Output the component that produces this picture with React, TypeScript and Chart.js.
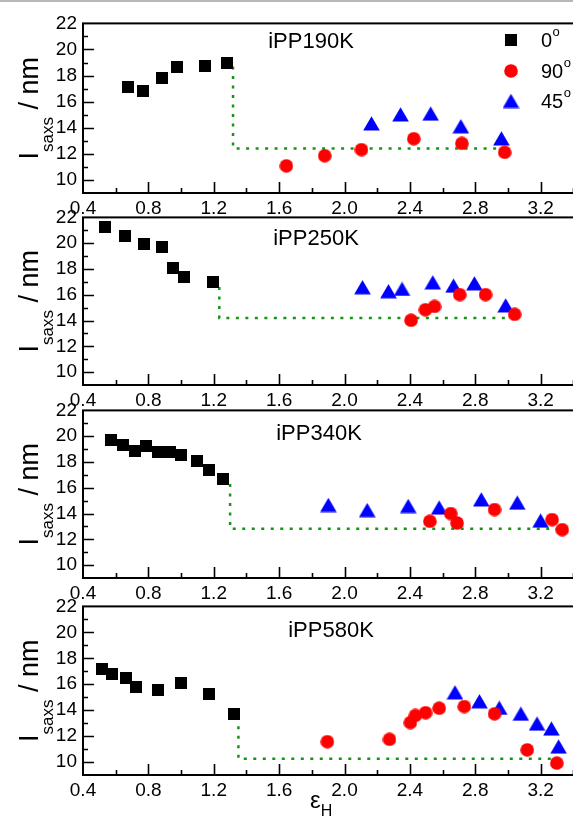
import React, { useEffect, useRef } from 'react';
import { Chart, registerables } from 'chart.js';

Chart.register(...registerables);

const FONT = '"Liberation Sans", Arial, Helvetica, sans-serif';

// ---------- data ----------
const PANEL_NAMES = ['iPP190K', 'iPP250K', 'iPP340K', 'iPP580K'];
const LEGEND_LABELS = ['0', '90', '45'];
const LEGEND_SUP = 'o';
const Y_TITLE_MAIN = 'I';
const Y_TITLE_SUB = 'saxs';
const Y_TITLE_REST = ' / nm';
const X_TITLE_MAIN = 'ε';
const X_TITLE_SUB = 'H';

const X_MIN = 0.4;
const X_MAX = 3.6;
const X_STEP = 0.2;
const X_LABEL_EVERY = 0.4;
const X_LABEL_MAX = 3.2;
const Y_MIN = 9;
const Y_MAX = 22;
const Y_STEP = 1;
const Y_LABEL_MIN = 10;

// iPP190K
const P1_SQ_X = [0.673, 0.768, 0.882, 0.975, 1.148, 1.28];
const P1_SQ_Y = [17.1, 16.85, 17.81, 18.69, 18.77, 18.99];
const P1_CI_X = [1.644, 1.879, 2.104, 2.424, 2.718, 2.98];
const P1_CI_Y = [11.08, 11.86, 12.32, 13.16, 12.8, 12.12];
const P1_TR_X = [2.165, 2.343, 2.527, 2.712, 2.96];
const P1_TR_Y = [14.33, 15.02, 15.08, 14.11, 13.18];
const P1_LN_X = [1.318, 1.318, 3.0];
const P1_LN_Y = [18.7, 12.42, 12.42];

// iPP250K
const P2_SQ_X = [0.536, 0.658, 0.774, 0.884, 0.948, 1.019, 1.197];
const P2_SQ_Y = [21.23, 20.54, 19.95, 19.7, 18.11, 17.4, 17.01];
const P2_CI_X = [2.407, 2.495, 2.551, 2.705, 2.863, 3.041];
const P2_CI_Y = [14.02, 14.84, 15.09, 16.01, 16.01, 14.48];
const P2_TR_X = [2.11, 2.269, 2.352, 2.54, 2.667, 2.795, 2.986];
const P2_TR_Y = [16.58, 16.27, 16.45, 16.96, 16.7, 16.88, 15.17];
const P2_LN_X = [1.234, 1.234, 3.046];
const P2_LN_Y = [16.6, 14.2, 14.2];

// iPP340K
const P3_SQ_X = [0.574, 0.647, 0.717, 0.785, 0.856, 0.933, 0.999, 1.098, 1.17, 1.258];
const P3_SQ_Y = [19.7, 19.29, 18.87, 19.24, 18.74, 18.74, 18.56, 18.04, 17.36, 16.68];
const P3_CI_X = [2.522, 2.65, 2.689, 2.918, 3.27, 3.332];
const P3_CI_Y = [13.4, 14.0, 13.27, 14.31, 13.53, 12.75];
const P3_TR_X = [1.901, 2.139, 2.39, 2.579, 2.837, 3.057, 3.2];
const P3_TR_Y = [14.66, 14.26, 14.58, 14.46, 15.09, 14.84, 13.45];
const P3_LN_X = [1.3, 1.3, 3.34];
const P3_LN_Y = [16.3, 12.82, 12.82];

// iPP580K
const P4_SQ_X = [0.519, 0.58, 0.662, 0.724, 0.856, 0.999, 1.17, 1.322];
const P4_SQ_Y = [17.14, 16.76, 16.46, 15.8, 15.54, 16.08, 15.24, 13.72];
const P4_CI_X = [1.895, 2.275, 2.403, 2.434, 2.496, 2.579, 2.733, 2.918, 3.118, 3.299];
const P4_CI_Y = [11.57, 11.75, 13.04, 13.59, 13.8, 14.15, 14.28, 13.72, 10.94, 9.92];
const P4_TR_X = [2.676, 2.826, 2.947, 3.079, 3.178, 3.266, 3.31];
const P4_TR_Y = [15.37, 14.68, 14.18, 13.72, 12.96, 12.58, 11.19];
const P4_LN_X = [1.351, 1.351, 3.3];
const P4_LN_Y = [13.5, 10.25, 10.25];

const PANELS = [
  { sqX: P1_SQ_X, sqY: P1_SQ_Y, ciX: P1_CI_X, ciY: P1_CI_Y, trX: P1_TR_X, trY: P1_TR_Y, lnX: P1_LN_X, lnY: P1_LN_Y },
  { sqX: P2_SQ_X, sqY: P2_SQ_Y, ciX: P2_CI_X, ciY: P2_CI_Y, trX: P2_TR_X, trY: P2_TR_Y, lnX: P2_LN_X, lnY: P2_LN_Y },
  { sqX: P3_SQ_X, sqY: P3_SQ_Y, ciX: P3_CI_X, ciY: P3_CI_Y, trX: P3_TR_X, trY: P3_TR_Y, lnX: P3_LN_X, lnY: P3_LN_Y },
  { sqX: P4_SQ_X, sqY: P4_SQ_Y, ciX: P4_CI_X, ciY: P4_CI_Y, trX: P4_TR_X, trY: P4_TR_Y, lnX: P4_LN_X, lnY: P4_LN_Y },
];

// ---------- layout / style ----------
const LAYOUT = {
  left: 83,
  pxPerUnit: 166.1,
  padTop: 15,
  xAxisH: 35,
  padBottom: 30,
  panels: [
    { top: 21, h: 172, titleX: 311, titleDy: 25 },
    { top: 215, h: 170, titleX: 316, titleDy: 28 },
    { top: 408, h: 170, titleX: 319, titleDy: 30 },
    { top: 604, h: 171, titleX: 331, titleDy: 31 },
  ],
  legend: { markerX: 511, textX: 541, rows: [40, 71, 101] },
  yTitleX: 38,
  xTitle: { x: 310, baseline: 808 },
};
const GREEN = 'rgb(20,150,20)';
const RED = '#ff0000';
const BLUE = '#0000ff';
const BLACK = '#000000';

function zip(xs: number[], ys: number[]) {
  return xs.map((x, i) => ({ x, y: ys[i] }));
}

function makeMarker(kind: 'sq' | 'ci' | 'tr'): HTMLCanvasElement {
  const c = document.createElement('canvas');
  if (kind === 'sq') {
    c.width = 12; c.height = 12;
    const g = c.getContext('2d')!;
    g.fillStyle = BLACK; g.fillRect(0, 0, 12, 12);
  } else if (kind === 'ci') {
    c.width = 14; c.height = 14;
    const g = c.getContext('2d')!;
    g.fillStyle = RED; g.beginPath(); g.arc(7, 7, 6.8, 0, Math.PI * 2); g.fill();
  } else {
    c.width = 17; c.height = 15;
    const g = c.getContext('2d')!;
    g.fillStyle = BLUE; g.beginPath();
    g.moveTo(8.5, 0.3); g.lineTo(16.8, 14.5); g.lineTo(0.2, 14.5); g.closePath(); g.fill();
  }
  return c;
}

const CANVAS_W = Math.round(LAYOUT.left + (X_MAX - X_MIN) * LAYOUT.pxPerUnit);

function PanelChart({ idx }: { idx: number }) {
  const ref = useRef<HTMLCanvasElement>(null);
  const L = LAYOUT.panels[idx];
  const canvasTop = L.top - LAYOUT.padTop;
  const canvasH = LAYOUT.padTop + L.h + LAYOUT.xAxisH + LAYOUT.padBottom;

  useEffect(() => {
    const canvas = ref.current!;
    const P = PANELS[idx];
    const mSq = makeMarker('sq');
    const mCi = makeMarker('ci');
    const mTr = makeMarker('tr');

    const deco = {
      id: 'deco' + idx,
      afterDraw(chart: any) {
        const ctx = chart.ctx as CanvasRenderingContext2D;
        const a = chart.chartArea;
        const xs = chart.scales.x;
        const ys = chart.scales.y;
        ctx.save();
        // inward ticks
        ctx.strokeStyle = BLACK;
        ctx.lineWidth = 1.6;
        ctx.beginPath();
        xs.ticks.forEach((t: any) => {
          const k = Math.round(t.value / X_STEP);
          if (Math.abs(t.value - X_MIN) < 1e-6 || Math.abs(t.value - X_MAX) < 1e-6) return;
          const major = Math.round(t.value / X_STEP) % Math.round(X_LABEL_EVERY / X_STEP) === 0;
          void k;
          const px = Math.round(xs.getPixelForValue(t.value)) + 0.5;
          ctx.moveTo(px, a.bottom);
          ctx.lineTo(px, a.bottom - (major ? 11 : 5));
        });
        ys.ticks.forEach((t: any) => {
          if (Math.abs(t.value - Y_MIN) < 1e-6 || Math.abs(t.value - Y_MAX) < 1e-6) return;
          const major = Math.round(t.value) % 2 === 0;
          const py = Math.round(ys.getPixelForValue(t.value)) + 0.5;
          ctx.moveTo(a.left, py);
          ctx.lineTo(a.left + (major ? 11 : 5), py);
        });
        ctx.stroke();
        // frame
        ctx.lineWidth = 2;
        ctx.strokeRect(a.left, a.top, a.right - a.left, a.bottom - a.top);

        // y title
        const cy = (a.top + a.bottom) / 2;
        ctx.translate(LAYOUT.yTitleX, cy);
        ctx.rotate(-Math.PI / 2);
        ctx.fillStyle = BLACK;
        ctx.textAlign = 'left';
        ctx.textBaseline = 'alphabetic';
        const big = `27px ${FONT}`;
        const small = `17px ${FONT}`;
        ctx.font = big;
        const wI = ctx.measureText(Y_TITLE_MAIN).width;
        const wR = ctx.measureText(Y_TITLE_REST).width;
        ctx.font = small;
        const wS = ctx.measureText(Y_TITLE_SUB).width;
        let x = -(wI + wS + wR) / 2;
        ctx.font = big; ctx.fillText(Y_TITLE_MAIN, x, 0); x += wI;
        ctx.font = small; ctx.fillText(Y_TITLE_SUB, x, 15); x += wS;
        ctx.font = big; ctx.fillText(Y_TITLE_REST, x, 0);
        ctx.setTransform(1, 0, 0, 1, 0, 0);

        // panel title
        ctx.font = `22px ${FONT}`;
        ctx.textAlign = 'center';
        ctx.fillText(PANEL_NAMES[idx], L.titleX, a.top + L.titleDy);

        // legend (first panel)
        if (idx === 0) {
          const marks = [mSq, mCi, mTr];
          LAYOUT.legend.rows.forEach((ry, i) => {
            const y = ry - canvasTop;
            const m = marks[i];
            ctx.drawImage(m, LAYOUT.legend.markerX - m.width / 2, y - m.height / 2);
            ctx.textAlign = 'left';
            ctx.font = `20px ${FONT}`;
            ctx.fillText(LEGEND_LABELS[i], LAYOUT.legend.textX, y + 7);
            const w = ctx.measureText(LEGEND_LABELS[i]).width;
            ctx.font = `13px ${FONT}`;
            ctx.fillText(LEGEND_SUP, LAYOUT.legend.textX + w + 0.5, y - 4);
          });
        }

        // x title (last panel)
        if (idx === PANELS.length - 1) {
          const by = LAYOUT.xTitle.baseline - canvasTop;
          ctx.textAlign = 'left';
          ctx.font = `24px ${FONT}`;
          ctx.fillText(X_TITLE_MAIN, LAYOUT.xTitle.x, by);
          const we = ctx.measureText(X_TITLE_MAIN).width;
          ctx.font = `16px ${FONT}`;
          ctx.fillText(X_TITLE_SUB, LAYOUT.xTitle.x + we, by + 8);
        }
        ctx.restore();
      },
    };

    const tickFont = { family: FONT, size: 19 };
    const chart = new Chart(canvas, {
      type: 'scatter',
      data: {
        datasets: [
          { label: LEGEND_LABELS[0], data: zip(P.sqX, P.sqY), pointStyle: mSq as any, pointRadius: 7, showLine: false, clip: false as any },
          { label: LEGEND_LABELS[1], data: zip(P.ciX, P.ciY), pointStyle: mCi as any, pointRadius: 7, showLine: false, clip: false as any },
          { label: LEGEND_LABELS[2], data: zip(P.trX, P.trY), pointStyle: mTr as any, pointRadius: 8, showLine: false, clip: false as any },
          {
            label: 'step', data: zip(P.lnX, P.lnY), showLine: true, pointRadius: 0,
            borderColor: GREEN, backgroundColor: GREEN, borderWidth: 2.5, borderDash: [3, 6.5],
            fill: false, tension: 0,
          } as any,
        ],
      },
      options: {
        animation: false,
        responsive: false,
        events: [],
        layout: { padding: { top: LAYOUT.padTop, left: 0, right: 0, bottom: LAYOUT.padBottom } },
        plugins: { legend: { display: false }, tooltip: { enabled: false }, title: { display: false } },
        scales: {
          x: {
            type: 'linear', min: X_MIN, max: X_MAX,
            afterFit: (s: any) => { s.height = LAYOUT.xAxisH; },
            grid: { display: false, drawTicks: false },
            border: { display: false },
            ticks: {
              stepSize: X_STEP, autoSkip: false, maxRotation: 0, minRotation: 0, padding: 4,
              color: BLACK, font: tickFont,
              callback: (v: any) => {
                const n = Number(v);
                const k = Math.round(n / X_STEP);
                const every = Math.round(X_LABEL_EVERY / X_STEP);
                if (k % every !== 0 || n > X_LABEL_MAX + 1e-6) return '';
                return n.toFixed(1);
              },
            },
          },
          y: {
            type: 'linear', min: Y_MIN, max: Y_MAX,
            afterFit: (s: any) => { s.width = LAYOUT.left; },
            grid: { display: false, drawTicks: false },
            border: { display: false },
            ticks: {
              stepSize: Y_STEP, autoSkip: false, padding: 6, color: BLACK, font: tickFont,
              callback: (v: any) => {
                const n = Math.round(Number(v));
                return n % 2 === 0 && n >= Y_LABEL_MIN ? String(n) : '';
              },
            },
          },
        },
      } as any,
      plugins: [deco],
    });
    return () => chart.destroy();
  }, [idx]);

  return (
    <canvas
      ref={ref}
      width={CANVAS_W}
      height={canvasH}
      style={{ position: 'absolute', left: 0, top: canvasTop, width: CANVAS_W, height: canvasH }}
    />
  );
}

export default function App() {
  return (
    <div
      style={{
        position: 'absolute', left: 0, top: 0, width: 573, height: 816,
        overflow: 'hidden', background: '#ffffff',
      }}
    >
      <div style={{ position: 'absolute', left: 0, top: 0, width: 573, height: 2, background: '#b8b8b8' }} />
      {PANEL_NAMES.map((_, i) => (
        <PanelChart key={i} idx={i} />
      ))}
    </div>
  );
}
